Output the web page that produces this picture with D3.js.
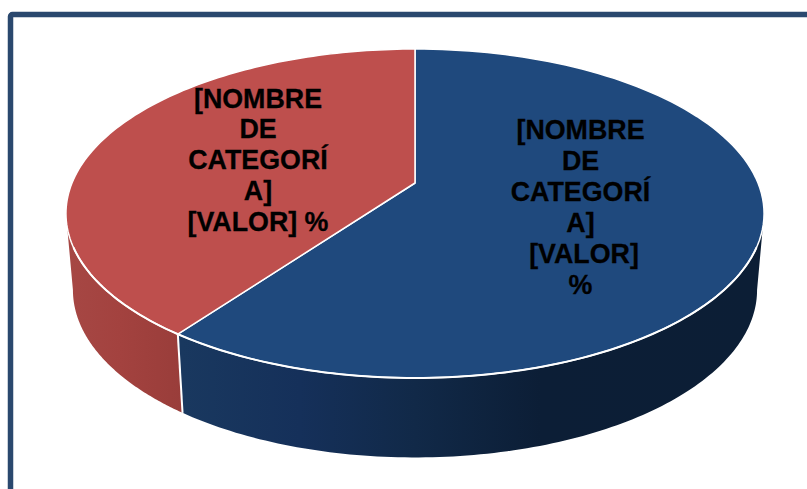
<!DOCTYPE html>
<html><head><meta charset="utf-8">
<script src="https://cdn.jsdelivr.net/npm/d3@7/dist/d3.min.js"></script>
<style>html,body{margin:0;padding:0;background:#fff;overflow:hidden}svg{display:block}
text{font-family:"Liberation Sans",Arial,sans-serif;font-weight:bold;font-size:26.8px;fill:#000;stroke:#000;stroke-width:0.3px;text-anchor:middle}</style>
</head><body><svg id="c" width="807" height="489"></svg>
<script>
const categories = ["Azul", "Rojo"];
const values = [60, 40];
const topColors = ["#1f497d", "#be4f4d"];
const wallStops = [
  [[183, "#19385f"], [300, "#15305a"], [415, "#112948"], [540, "#0c1e36"], [762, "#0c1e35"]],
  [[68, "#a64744"], [120, "#a3423f"], [183, "#993d3a"]]
];
const labelLines = [
  ["[NOMBRE", "DE", "CATEGORÍ", "A]", "[VALOR]", "%"],
  ["[NOMBRE", "DE", "CATEGORÍ", "A]", "[VALOR] %"]
];
const labelPos = [[580.5, 139], [258, 107.5]];
const labelNudge = [[0, 0, 0, 0, 3.5, 0], [0, 0, 0, 0, 0]];

const svg = d3.select("#c");
const persp = -0.1854, k = 343;
const cx = 415;
function topPt(t) {
  const u = Math.sin(t), v = -Math.cos(t), d = 1 + persp * v;
  return [cx + k * u / d, (124.9 * v + 183) / d];
}
function botPt(t) {
  const p = topPt(t);
  return [cx + (p[0] - cx) * 0.98, 290 + (p[1] - 213.5) * 1.018];
}
const center = [cx, 183];
const visL = (360 - 100.7) * Math.PI / 180, visR = 100.7 * Math.PI / 180;
const arcs = d3.pie().sort(null).value(d => d)(values);
const line = d3.line();
const seq = (a, b) => d3.range(0, 121).map(i => a + (b - a) * i / 120);

const defs = svg.append("defs");
wallStops.forEach((stops, i) => {
  const g = defs.append("linearGradient").attr("id", "w" + i)
    .attr("gradientUnits", "userSpaceOnUse")
    .attr("x1", stops[0][0]).attr("x2", stops[stops.length - 1][0]).attr("y1", 0).attr("y2", 0);
  const sc = d3.scaleLinear().domain([stops[0][0], stops[stops.length - 1][0]]).range([0, 1]);
  stops.forEach(s => g.append("stop").attr("offset", sc(s[0])).attr("stop-color", s[1]));
});

svg.append("rect").attr("x", 10.5).attr("y", 14.5).attr("width", 900).attr("height", 600)
  .attr("rx", 2).attr("fill", "none").attr("stroke", "#2a486e").attr("stroke-width", 5.5);

// walls
arcs.forEach((a, i) => {
  const s = Math.max(a.startAngle, visR), e = Math.min(a.endAngle, visL);
  const ts = seq(s, e);
  const pts = ts.map(topPt).concat(ts.slice().reverse().map(botPt));
  svg.append("path").attr("d", line(pts) + "Z").attr("fill", `url(#w${i})`);
});
// seam between walls
const seam = arcs[0].endAngle;
svg.append("path").attr("d", line([topPt(seam), botPt(seam)]))
  .attr("stroke", "#fff").attr("stroke-width", 2).attr("fill", "none");
// tops
arcs.forEach((a, i) => {
  const pts = [center].concat(seq(a.startAngle, a.endAngle).map(topPt));
  svg.append("path").attr("d", line(pts) + "Z").attr("fill", topColors[i])
    .attr("stroke", "#fff").attr("stroke-width", 1.5).attr("stroke-linejoin", "round");
});
// brighter rim on the front edge of the top face
svg.append("path").attr("d", line(seq(visR + 0.2, visL - 0.2).map(topPt)))
  .attr("fill", "none").attr("stroke", "#fff").attr("stroke-width", 2);
// labels
labelLines.forEach((ls, i) => {
  const t = svg.append("text");
  ls.forEach((s, j) => t.append("tspan")
    .attr("x", labelPos[i][0] + labelNudge[i][j]).attr("y", labelPos[i][1] + j * 30.9).text(s));
});
</script></body></html>
